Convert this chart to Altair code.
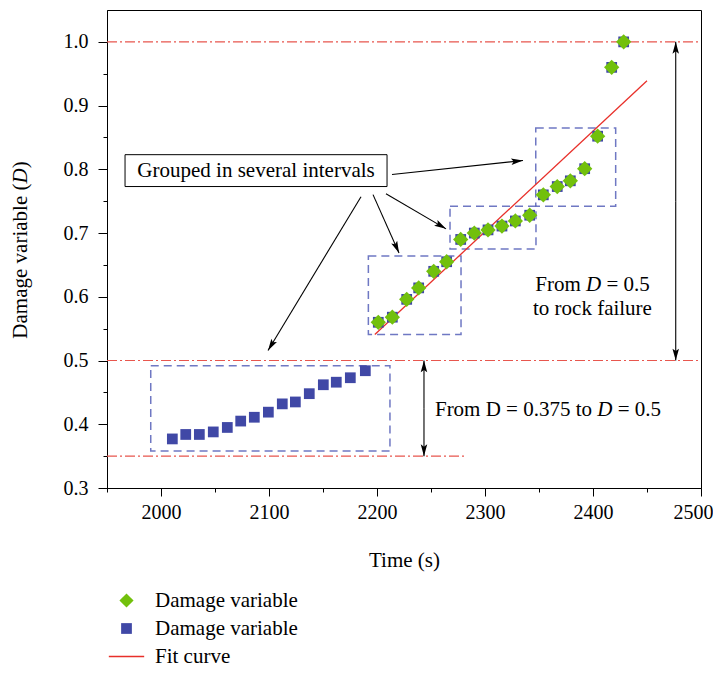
import math
import altair as alt
import pandas as pd

FONT = "Liberation Serif"

# ---------------- data ----------------
t_low = [2010.5, 2022.9, 2035.5, 2048.4, 2061.4, 2073.8, 2086.4, 2099.4, 2112.3,
         2124.4, 2137.3, 2150.3, 2162.3, 2175.3, 2189.2]
d_low = [0.377, 0.384, 0.384, 0.388, 0.395, 0.405, 0.411, 0.419, 0.432,
         0.435, 0.448, 0.462, 0.466, 0.473, 0.484]

t_high = [2201.2, 2214.2, 2227.5, 2238.6, 2252.5, 2264.5, 2277.5, 2290.1, 2302.8,
          2315.7, 2328.1, 2341.4, 2354.0, 2366.9, 2379.0, 2392.3, 2404.3, 2417.3, 2428.4]
d_high = [0.560, 0.568, 0.596, 0.614, 0.640, 0.655, 0.690, 0.700, 0.705,
          0.711, 0.719, 0.728, 0.760, 0.773, 0.782, 0.801, 0.852, 0.960, 1.000]

fit_t = [2198, 2450]
fit_d = [0.541, 0.939]

ref_level = [1.0, 0.5, 0.35]
ref_t1 = [1950, 1950, 1950]
ref_t2 = [2500, 2500, 2281]

box_t1 = [1990.5, 2192.0, 2267.6, 2347.0]
box_t2 = [2212.0, 2277.8, 2347.2, 2421.0]
box_d1 = [0.358, 0.541, 0.675, 0.742]
box_d2 = [0.492, 0.664, 0.742, 0.865]

# arrows: tail (t, d) -> tip (t, d)
arrow_t1 = [2213.9, 2208.3, 2196.3, 2185.2, 2476.6, 2476.6, 2243.5, 2243.5]
arrow_d1 = [0.7918, 0.7618, 0.7603, 0.7571, 0.75, 0.75, 0.425, 0.425]
arrow_t2 = [2335.2, 2263.9, 2220.4, 2099.1, 2476.6, 2476.6, 2243.5, 2243.5]
arrow_d2 = [0.8139, 0.7066, 0.6688, 0.5158, 1.0, 0.5, 0.5, 0.35]

x_ticks = [1950 + 50 * i for i in range(12)]
y_ticks = [round(0.3 + 0.05 * i, 2) for i in range(15)]

X_DOMAIN = [1950, 2500]
Y_DOMAIN = [0.3, 1.05]
W, H = 594, 478
PX_T = W / (X_DOMAIN[1] - X_DOMAIN[0])
PX_D = H / (Y_DOMAIN[1] - Y_DOMAIN[0])
FS = 21
TFS = 20

GREEN = "#72c00c"
BLUE = "#4048a6"
RED = "#e8302a"
REFRED = "#e8564e"
BOXBLUE = "#5f69bc"

# ---------------- axes ----------------
xscale = alt.Scale(domain=X_DOMAIN, nice=False, zero=False)
yscale = alt.Scale(domain=Y_DOMAIN, nice=False, zero=False)

xaxis = alt.Axis(
    values=x_ticks, grid=False, title="Time (s)",
    labelExpr="datum.value % 100 === 0 ? datum.label : ''",
    format="d",
    tickSize={"condition": {"test": "datum.value % 100 === 0", "value": 8}, "value": 4},
    labelOffset={"condition": {"test": "datum.value >= 2500", "value": -8}, "value": 0},
    labelPadding=6, titlePadding=27, labelFontSize=TFS, titleFontSize=FS,
    titleFontWeight="normal", labelFlush=False,
)
MAJ_Y = "abs(datum.value*10 - round(datum.value*10)) < 0.001"
yaxis = alt.Axis(
    values=y_ticks, grid=False, title="", format=".1f",
    labelExpr=MAJ_Y + " ? datum.label : ''",
    tickSize={"condition": {"test": MAJ_Y, "value": 9}, "value": 4},
    labelPadding=10, labelFontSize=TFS, labelFlush=False,
)


def X(field):
    return alt.X(field, type="quantitative", scale=xscale, axis=xaxis)


def Y(field):
    return alt.Y(field, type="quantitative", scale=yscale, axis=yaxis)


# ---------------- layers ----------------
ref_df = pd.DataFrame({"d": ref_level, "t1": ref_t1, "t2": ref_t2})
ref_layer = alt.Chart(ref_df).mark_rule(
    color=REFRED, strokeWidth=1.1, strokeDash=[10, 3, 2, 3]
).encode(x=X("t1"), x2="t2", y=Y("d"))

box_df = pd.DataFrame({"t1": box_t1, "t2": box_t2, "d1": box_d1, "d2": box_d2})
box_layer = alt.Chart(box_df).mark_rect(
    fillOpacity=0, stroke=BOXBLUE, strokeWidth=1.5, strokeDash=[8, 5], strokeOpacity=0.9
).encode(x=X("t1"), x2="t2", y=Y("d1"), y2="d2")

blue_df = pd.DataFrame({"t": t_low + t_high, "d": d_low + d_high, "series": "b"})
green_df = pd.DataFrame({"t": t_high, "d": d_high, "series": "g"})

SQUARE_PATH = "M-0.76,-0.76L0.76,-0.76L0.76,0.76L-0.76,0.76Z"
LINE_PATH = "M-2.5,-0.1L2.5,-0.1L2.5,0.1L-2.5,0.1Z"
SER_DOMAIN = ["g", "b", "f"]
SYM_SIZE = 200
legend = alt.Legend(
    title="", orient="none", legendX=9, legendY=580, padding=0,
    labelExpr="datum.value == 'f' ? 'Fit curve' : 'Damage variable'",
    labelFont=FONT, labelFontSize=FS, labelColor="black", labelOffset=18,
    rowPadding=6, symbolStrokeWidth=0, symbolSize=SYM_SIZE,
)
color_enc = alt.Color("series:N", scale=alt.Scale(domain=SER_DOMAIN, range=[GREEN, BLUE, RED]), legend=legend)
shape_enc = alt.Shape("series:N", scale=alt.Scale(domain=SER_DOMAIN, range=["diamond", SQUARE_PATH, LINE_PATH]), legend=legend)

blue_layer = alt.Chart(blue_df).mark_point(opacity=1, strokeWidth=0, filled=True, size=SYM_SIZE).encode(
    x=X("t"), y=Y("d"), color=color_enc, shape=shape_enc)
green_layer = alt.Chart(green_df).mark_point(opacity=1, strokeWidth=0, filled=True, size=235).encode(
    x=X("t"), y=Y("d"), color=color_enc, shape=shape_enc)

fit_df = pd.DataFrame({"t": fit_t, "d": fit_d})
fit_layer = alt.Chart(fit_df).mark_line(strokeWidth=1.3, color=RED).encode(
    x=X("t"), y=Y("d")
)

# group label box
tb_df = pd.DataFrame({"t1": [1966.7], "t2": [2209.3], "d1": [0.773], "d2": [0.823],
                      "tc": [2088.0], "dc": [0.798], "txt": ["Grouped in several intervals"]})
tb_rect = alt.Chart(tb_df).mark_rect(fill="white", stroke="black", strokeWidth=1).encode(
    x=X("t1"), x2="t2", y=Y("d1"), y2="d2")
tb_text = alt.Chart(tb_df).mark_text(font=FONT, fontSize=FS, color="black", baseline="middle").encode(
    x=X("tc"), y=Y("dc"), text="txt:N")

# arrows
arr_df = pd.DataFrame({"t1": arrow_t1, "d1": arrow_d1, "t2": arrow_t2, "d2": arrow_d2})
arr_df["ang"] = [
    math.degrees(math.atan2((b - a) * PX_T, (d - c) * PX_D)) % 360
    for a, b, c, d in zip(arrow_t1, arrow_t2, arrow_d1, arrow_d2)
]
arr_lines = alt.Chart(arr_df).mark_rule(color="black", strokeWidth=1.1).encode(
    x=X("t1"), x2="t2", y=Y("d1"), y2="d2")
arr_heads = alt.Chart(arr_df).mark_point(
    shape="M0,0L0.55,2L0,1.6L-0.55,2Z", filled=True, color="black", opacity=1, size=140
).encode(x=X("t2"), y=Y("d2"), angle=alt.Angle("ang:Q", scale=None))

# annotation texts (pieces; italic D separately), positions from text widths
em = FS
SP, DW, EQ, FROM, HALF = 0.25, 0.722, 0.564, 2.167, 1.25
def tpos(t0, px):
    return t0 + px / PX_T

def t_of_px(xpix):
    return X_DOMAIN[0] + xpix / PX_T

line1_w = (FROM + SP + DW + SP + EQ + SP + HALF) * em
t_a = t_of_px(592.5 - 107 - line1_w / 2)
d_a = 0.6095
line3_pre = 7.481
line3_w = (line3_pre + SP + DW + SP + EQ + SP + HALF) * em
t_c = t_of_px(548 - 107 - line3_w / 2)
d_c = 0.4134
norm_df = pd.DataFrame({
    "t": [t_a, tpos(t_a, (FROM + SP + DW + SP) * em), t_c, tpos(t_c, (line3_pre + SP + DW + SP) * em)],
    "d": [d_a, d_a, d_c, d_c],
    "txt": ["From", "= 0.5", "From D = 0.375 to", "= 0.5"],
})
ital_df = pd.DataFrame({
    "t": [tpos(t_a, (FROM + SP) * em), tpos(t_c, (line3_pre + SP) * em)],
    "d": [d_a, d_c],
    "txt": ["D", "D"],
})
norm_text = alt.Chart(norm_df).mark_text(font=FONT, fontSize=FS, color="black", align="left",
                                         baseline="alphabetic").encode(
    x=X("t"), y=Y("d"), text="txt:N")
ital_text = alt.Chart(ital_df).mark_text(font=FONT, fontSize=FS, color="black", align="left",
                                         baseline="alphabetic", fontStyle="italic").encode(
    x=X("t"), y=Y("d"), text="txt:N")
cen_df = pd.DataFrame({"t": [2399.5], "d": [0.5714], "txt": ["to rock failure"]})
cen_text = alt.Chart(cen_df).mark_text(font=FONT, fontSize=FS, color="black", align="center",
                                       baseline="alphabetic").encode(
    x=X("t"), y=Y("d"), text="txt:N")

# rotated y-axis title "Damage variable (D)"
YC = 240
w1 = 7.386 * FS
wD = 0.722 * FS
wP = 0.333 * FS
y0 = YC + (w1 + wD + wP) / 2
def ytitle(txt, ypix, style):
    return alt.Chart(pd.DataFrame({"txt": [txt]})).mark_text(
        font=FONT, fontSize=FS, color="black", align="left", baseline="middle",
        angle=270, fontStyle=style
    ).encode(x=alt.value(-86), y=alt.value(ypix), text="txt:N")

yt1 = ytitle("Damage variable (", y0, "normal")
yt2 = ytitle("D", y0 - w1, "italic")
yt3 = ytitle(")", y0 - w1 - wD, "normal")

chart = alt.layer(
    ref_layer, box_layer, fit_layer, blue_layer, green_layer, tb_rect, tb_text,
    arr_lines, arr_heads, norm_text, ital_text, cen_text, yt1, yt2, yt3,
).properties(
    width=W, height=H, autosize="none",
    padding={"left": 99, "top": 2, "right": 12, "bottom": 180},
).configure_view(
    stroke="black", strokeWidth=1
).configure_axis(
    labelFont=FONT, titleFont=FONT, labelColor="black", titleColor="black",
    domainColor="black", tickColor="black", domainWidth=1, tickWidth=1,
)

chart.save("out.html", embed_options={"renderer": "svg", "actions": False})
